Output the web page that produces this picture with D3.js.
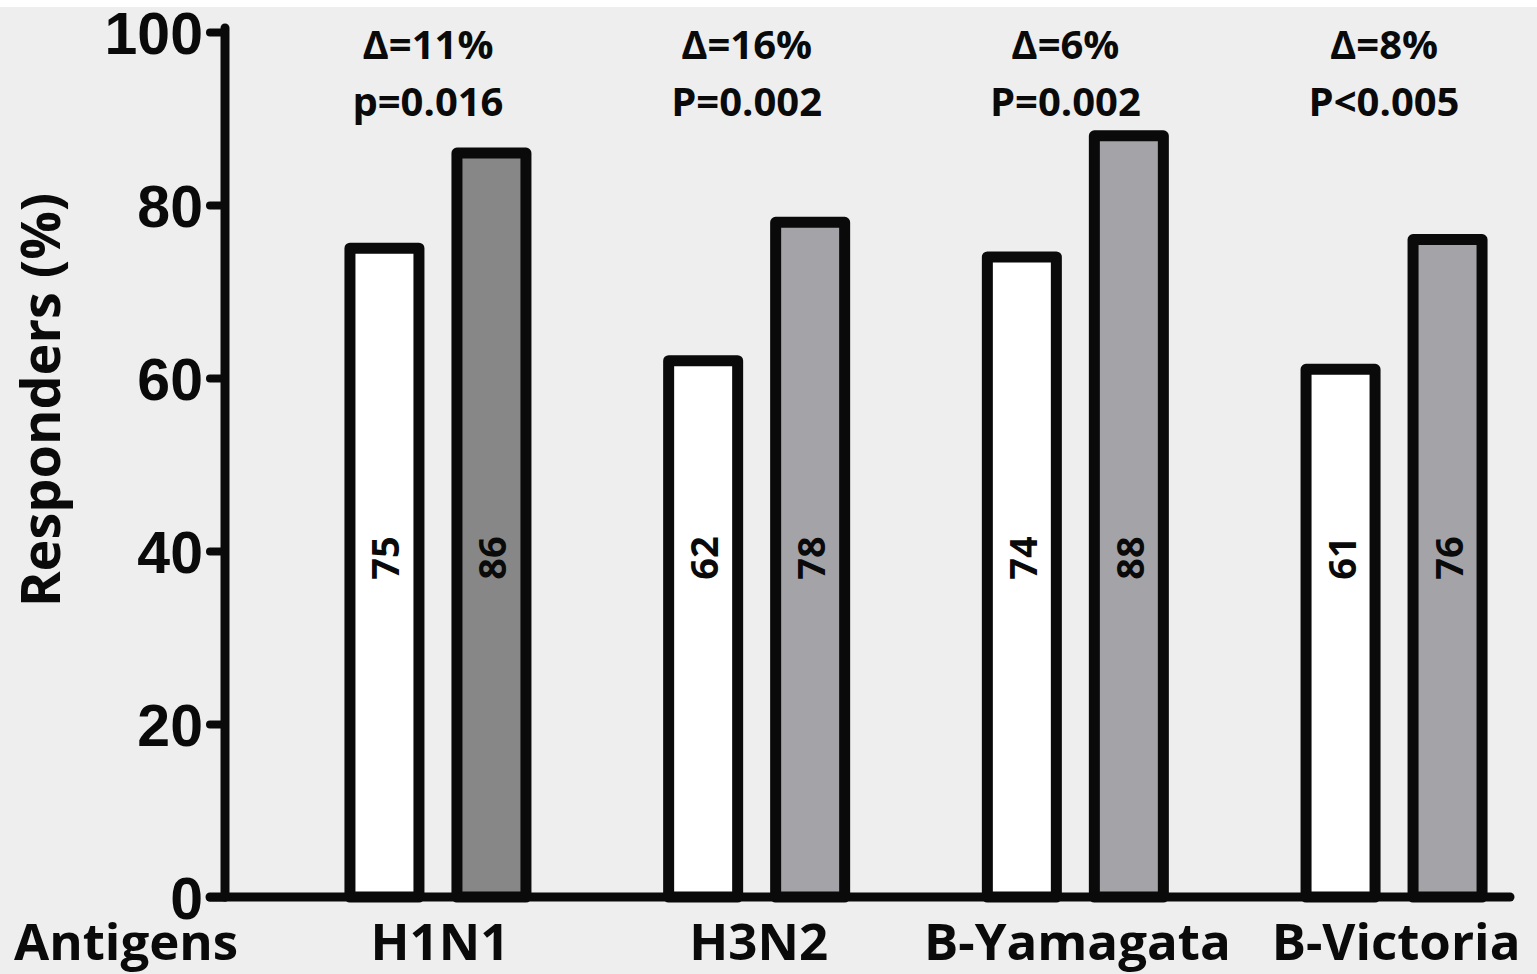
<!DOCTYPE html>
<html>
<head>
<meta charset="utf-8">
<script src="https://cdn.jsdelivr.net/npm/d3@7"></script>
<style>
  html, body { margin: 0; padding: 0; background: #eeeeee; }
  svg { display: block; }
  text { font-family: "Open Sans", "DejaVu Sans", sans-serif; font-weight: 700; fill: #0a0a0a; }
</style>
</head>
<body>
<svg id="chart" width="1537" height="974"></svg>
<script>
const categories = ["H1N1", "H3N2", "B-Yamagata", "B-Victoria"];
const seriesNames = ["Pre", "Post"];
const preValues = [75, 62, 74, 61];
const postValues = [86, 78, 88, 76];
const deltaLabels = ["Δ=11%", "Δ=16%", "Δ=6%", "Δ=8%"];
const pLabels = ["p=0.016", "P=0.002", "P=0.002", "P<0.005"];
const yTicks = [0, 20, 40, 60, 80, 100];
const yTitle = "Responders (%)";
const xTitle = "Antigens";
const preColors = ["#ffffff", "#ffffff", "#ffffff", "#ffffff"];
const postColors = ["#878787", "#a4a3a8", "#a4a3a8", "#a4a3a8"];

const svg = d3.select("#chart");
const W = 1537, H = 974;

svg.append("rect").attr("x", 0).attr("y", 0).attr("width", W).attr("height", H).attr("fill", "#eeeeee");
svg.append("rect").attr("x", 0).attr("y", 0).attr("width", W).attr("height", 7).attr("fill", "#ffffff");

const y = d3.scaleLinear().domain([0, 100]).range([897, 32]);
const x0 = d3.scaleBand().domain(categories).range([278.6, 1553.4]).padding(0);
const x1 = d3.scalePoint().domain(seriesNames).range([-53.5, 53.5]);
const barW = 69;
const strokeW = 11;

const rows = categories.map((c, i) => ({
  cat: c,
  values: [
    { s: "Pre", v: preValues[i], color: preColors[i] },
    { s: "Post", v: postValues[i], color: postColors[i] }
  ],
  delta: deltaLabels[i],
  p: pLabels[i]
}));

// Bars
const groups = svg.append("g").selectAll("g.grp").data(rows).join("g")
  .attr("class", "grp")
  .attr("transform", d => `translate(${x0(d.cat) + x0.bandwidth() / 2},0)`);

groups.selectAll("rect.bar").data(d => d.values).join("rect")
  .attr("class", "bar")
  .attr("x", d => x1(d.s) - barW / 2)
  .attr("y", d => y(d.v))
  .attr("width", barW)
  .attr("height", d => y(0) - y(d.v))
  .attr("fill", d => d.color)
  .attr("stroke", "#0a0a0a")
  .attr("stroke-width", strokeW)
  .attr("stroke-linejoin", "round");

groups.selectAll("text.val").data(d => d.values).join("text")
  .attr("class", "val")
  .attr("transform", d => `translate(${x1(d.s)},${y(39.2)}) rotate(-90)`)
  .attr("text-anchor", "middle")
  .attr("dominant-baseline", "central")
  .style("font-size", "38px")
  .text(d => d.v);

// Annotations
groups.append("text")
  .attr("x", -10).attr("y", 59)
  .attr("text-anchor", "middle")
  .style("font-size", "40px")
  .text(d => d.delta);
groups.append("text")
  .attr("x", -10).attr("y", 116)
  .attr("text-anchor", "middle")
  .style("font-size", "40px")
  .text(d => d.p);

// Category labels
groups.append("text")
  .attr("x", 2).attr("y", 960)
  .attr("text-anchor", "middle")
  .style("font-size", "51px")
  .text(d => d.cat);

svg.append("text")
  .attr("x", 14).attr("y", 960)
  .attr("text-anchor", "start")
  .style("font-size", "51px")
  .text(xTitle);

// Y axis
const axisX = 225;
const yAxis = d3.axisLeft(y).tickValues(yTicks).tickSize(15).tickPadding(8).tickFormat(d3.format("d"));
const ya = svg.append("g").attr("transform", `translate(${axisX},0)`).call(yAxis);
ya.select(".domain").remove();
ya.selectAll(".tick line").attr("stroke", "#0a0a0a").attr("stroke-width", 8).attr("stroke-linecap", "round");
ya.selectAll(".tick text")
  .style("font-family", "'Liberation Sans', Arial, sans-serif")
  .style("font-weight", "700")
  .style("font-size", "59px")
  .attr("fill", "#0a0a0a")
  .attr("dy", "0.36em")
  .attr("x", -22);

svg.append("line")
  .attr("x1", axisX).attr("x2", axisX)
  .attr("y1", y(100) - 4).attr("y2", y(0))
  .attr("stroke", "#0a0a0a").attr("stroke-width", 9).attr("stroke-linecap", "round");

// X axis baseline
svg.append("line")
  .attr("x1", axisX - 15).attr("x2", 1510)
  .attr("y1", y(0)).attr("y2", y(0))
  .attr("stroke", "#0a0a0a").attr("stroke-width", 9).attr("stroke-linecap", "round");

// Y title
svg.append("text")
  .attr("transform", `translate(60,400) rotate(-90)`)
  .attr("text-anchor", "middle")
  .style("font-size", "54px")
  .text(yTitle);
</script>
</body>
</html>
